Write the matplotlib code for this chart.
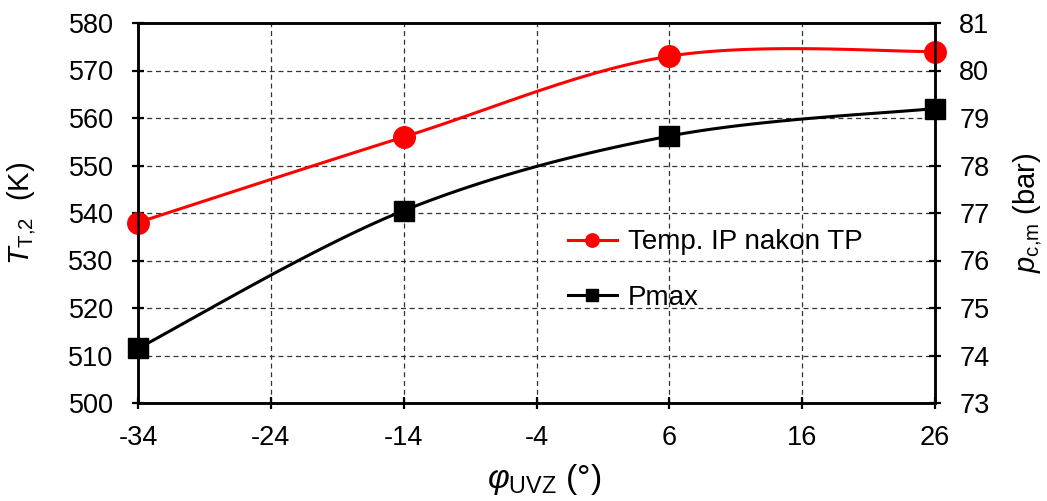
import matplotlib
matplotlib.use('Agg')
import matplotlib.pyplot as plt
import numpy as np

plt.rcParams['font.family'] = ['Liberation Sans', 'DejaVu Sans']
plt.rcParams['font.size'] = 19.5
plt.rcParams['axes.unicode_minus'] = False
plt.rcParams['mathtext.fontset'] = 'custom'
plt.rcParams['mathtext.rm'] = 'Liberation Sans'
plt.rcParams['mathtext.it'] = 'Liberation Sans:italic'
plt.rcParams['mathtext.bf'] = 'Liberation Sans:bold'

phi = [-34, -14, 6, 26]
temp_ip = [538.0, 556.0, 573.0, 574.0]
pmax = [74.15, 77.05, 78.62, 79.2]
x_ticks = [-34, -24, -14, -4, 6, 16, 26]


def excel_smooth(xs, ys, n=40):
    # smoothed line like Excel (Catmull-Rom style bezier segments)
    pts = np.column_stack([xs, ys]).astype(float)
    out = [pts[:1]]
    t = np.linspace(0, 1, n)[1:, None]
    for i in range(len(pts) - 1):
        p0 = pts[max(i - 1, 0)]
        p1 = pts[i]
        p2 = pts[i + 1]
        p3 = pts[min(i + 2, len(pts) - 1)]
        c1 = p1 + (p2 - p0) / 6
        c2 = p2 - (p3 - p1) / 6
        seg = (1 - t) ** 3 * p1 + 3 * (1 - t) ** 2 * t * c1 + 3 * (1 - t) * t ** 2 * c2 + t ** 3 * p2
        out.append(seg)
    return np.vstack(out)


n = 40
marks = [i * (n - 1) for i in range(len(phi))]

fig = plt.figure(figsize=(10.47, 5.01), dpi=100)
ax = fig.add_axes([138 / 1047, 98 / 501, 797 / 1047, 380 / 501])
ax2 = ax.twinx()

red = excel_smooth(phi, temp_ip, n)
blk = excel_smooth(phi, pmax, n)

l1, = ax.plot(red[:, 0], red[:, 1], color='#ff0000', linewidth=2.2,
              marker='o', markersize=15.5, markevery=marks,
              label='Temp. IP nakon TP', clip_on=False, zorder=3)
l2, = ax2.plot(blk[:, 0], blk[:, 1], color='black', linewidth=2.2,
               marker='s', markersize=15, markevery=marks,
               label='Pmax', clip_on=False, zorder=3)

ax.set_xlim(-34, 26)
ax.set_ylim(500, 580)
ax2.set_ylim(73, 81)
ax.set_xticks(x_ticks)
ax.set_yticks(np.arange(500, 581, 10))
ax2.set_yticks(np.arange(73, 82, 1))

ax.grid(True, linestyle=(0, (4, 3)), color='#333333', linewidth=0.9)
ax.set_axisbelow(True)

for a in (ax, ax2):
    for s in a.spines.values():
        s.set_linewidth(1.8)
ax.tick_params(axis='both', direction='inout', length=9, width=1.6, pad=13)
ax2.tick_params(axis='y', direction='inout', length=9, width=1.6, pad=13)
ax.tick_params(axis='x', pad=11)

ax.set_ylabel(r'$T_{\mathrm{T{,}2}}$  (K)', fontsize=21)
ax.yaxis.set_label_coords(-0.125, 0.5)
ax2.set_ylabel(r'$p_{\mathrm{c{,}m}}$ (bar)', fontsize=21, rotation=90)
ax2.yaxis.set_label_coords(1.095, 0.5)
ax.set_xlabel(r'$\varphi_{\mathrm{UVZ}}$ (°)', fontsize=24)
ax.xaxis.set_label_coords(0.51, -0.155)

ax.legend(handles=[l1, l2], loc='center left', bbox_to_anchor=(0.5395, 0.35),
          frameon=False, fontsize=20, markerscale=0.62, handlelength=1.76,
          handletextpad=0.4, labelspacing=1.05, borderpad=0, borderaxespad=0)

plt.savefig('out.png', dpi=100)
